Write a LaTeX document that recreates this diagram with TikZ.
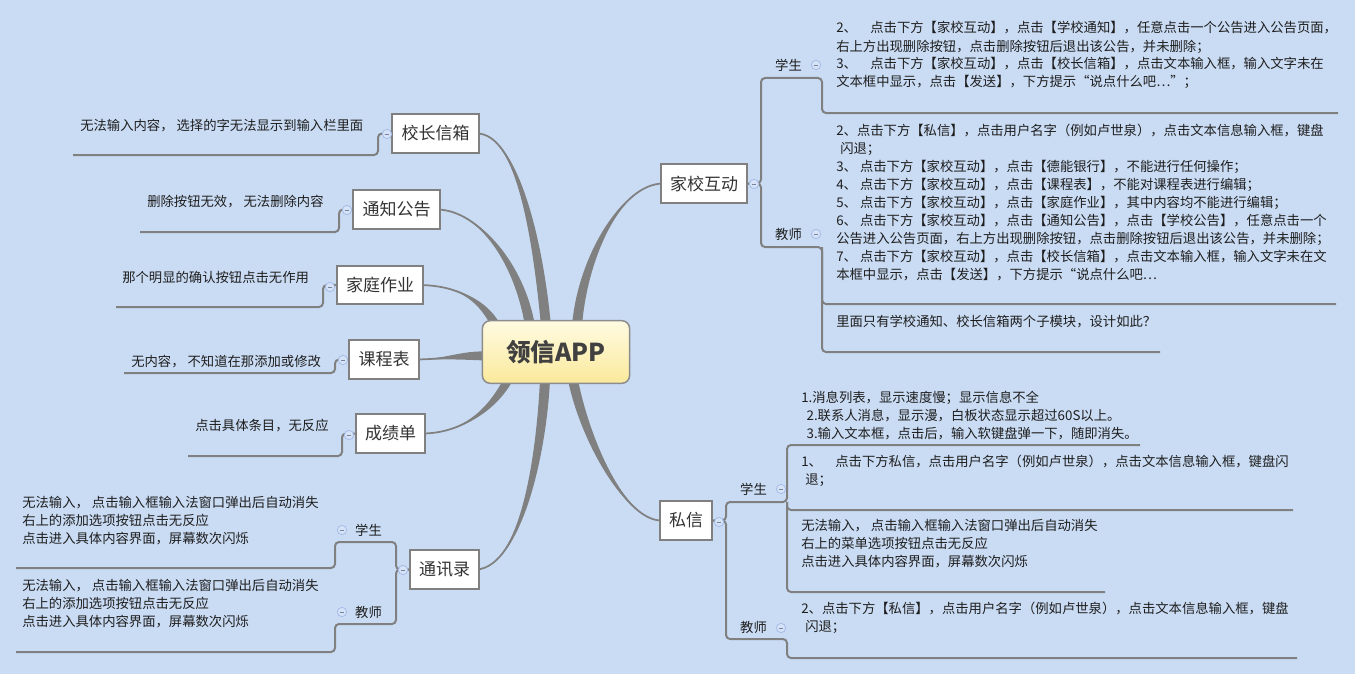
\documentclass[tikz,border=0pt]{standalone}
\usepackage{fontspec}
\setmainfont{Noto Sans CJK SC}
\usetikzlibrary{calc}
\definecolor{bgblue}{RGB}{202,220,244}
\definecolor{linegray}{RGB}{128,128,128}
\definecolor{txt}{RGB}{30,30,30}
\definecolor{ctop}{RGB}{255,251,226}
\definecolor{cbot}{RGB}{250,233,155}
\definecolor{circfill}{RGB}{214,227,247}
\definecolor{circline}{RGB}{165,188,232}
\newcommand{\taperbranch}[5]{%
  \fill[linegray] #1 .. controls #2 and ($#3+#5$) .. ($#4+#5$) -- ($#4-#5$) .. controls ($#3-#5$) and #2 .. #1 -- cycle;
  \draw[linegray, line width=1.3pt] #1 .. controls #2 and #3 .. #4;
}
\tikzset{
  topic/.style={draw=linegray, line width=1.5pt, fill=white, font=\fontsize{12.75}{15}\selectfont, text=black!80, minimum height=29pt, inner xsep=6.8pt, inner ysep=0pt},
  centre/.style={draw=black!45, line width=1.1pt, rounded corners=6pt, top color=ctop, bottom color=cbot, minimum width=110.5pt, minimum height=47pt, font=\fontsize{18.5}{20}\selectfont\bfseries, text=black!75},
  leaf/.style={anchor=base west, align=left, font=\fontsize{10}{13.5}\selectfont, text=txt, inner sep=0pt},
  sublabel/.style={font=\fontsize{10}{12}\selectfont, text=txt, inner sep=0pt},
  conn/.style={draw=linegray, line width=1.5pt, rounded corners=3pt},
  coll/.style={circle, draw=circline, fill=circfill, line width=0.6pt, minimum size=7pt, inner sep=0pt,
    path picture={\draw[circline!70!black, line width=0.5pt] ([xshift=-1.8pt]path picture bounding box.center) -- ([xshift=1.8pt]path picture bounding box.center);}}
}
\begin{document}
\begin{tikzpicture}[x=0.75pt,y=-0.75pt]
\useasboundingbox (0,0) rectangle (1355,674);
\fill[bgblue] (0,0) rectangle (1355,674);

% ---------- main tapered branches ----------
\taperbranch{(477,133.5)}{(515,133.5)}{(537,230)}{(546,326)}{(5,0)}
\taperbranch{(438,209.5)}{(480,211)}{(520,265)}{(530,326)}{(5,0)}
\taperbranch{(421,285)}{(458,286)}{(482,300)}{(495,324)}{(5,0)}
\taperbranch{(417,359.5)}{(445,359)}{(462,355)}{(486,356)}{(0,4.5)}
\taperbranch{(423,433.5)}{(462,433)}{(492,410)}{(508,380)}{(5,0)}
\taperbranch{(477,569.5)}{(520,566)}{(541,460)}{(545,380)}{(5,0)}
\taperbranch{(661,520.5)}{(625,520)}{(585,440)}{(573,380)}{(5,0)}
\taperbranch{(663,183.5)}{(620,184)}{(582,260)}{(577,326)}{(5,0)}

% ---------- nodes ----------
\node[centre] (c) at (556,352) {领信APP};

\node[topic] (xz) at (435.5,133.5) {校长信箱};
\node[topic] (tz) at (396.5,209.5) {通知公告};
\node[topic] (jt) at (380,285) {家庭作业};
\node[topic] (kc) at (384,359.5) {课程表};
\node[topic] (cj) at (390.5,433.5) {成绩单};
\node[topic] (tx) at (444.5,569.5) {通讯录};
\node[topic] (jx) at (704,183.5) {家校互动};
\node[topic] (sx) at (686,520.5) {私信};

% elbow coordinates
\coordinate (xzb) at (378,133.5);
\coordinate (tzb) at (339,209.5);
\coordinate (jtb) at (323,285);
\coordinate (kcb) at (335,359.5);
\coordinate (cjb) at (342,433.5);
\coordinate (txb) at (396,569.5);
\coordinate (jxb) at (761,183.5);
\coordinate (sxb) at (726,520.5);

\coordinate (xzl) at (73,155);
\coordinate (tzl) at (140,232);
\coordinate (jtl) at (116,307);
\coordinate (kcl) at (124,373);
\coordinate (cjl) at (188,456);

\coordinate (jxS) at (822,78);
\coordinate (jxT) at (822,247);
\coordinate (sxS) at (787,502);
\coordinate (sxT) at (787,639);
\coordinate (txS) at (335,542);
\coordinate (txT) at (335,624);

\coordinate (jxSe) at (1338,113);
\coordinate (jxT1e) at (1336,304);
\coordinate (jxT2e) at (1160,352);
\coordinate (sxAe) at (1140,445);
\coordinate (sxBe) at (1293,510);
\coordinate (sxCe) at (1105,592);
\coordinate (sxDe) at (1297,658);
\coordinate (txSe) at (16,568);
\coordinate (txTe) at (16,652);

% ---------- connectors ----------
\draw[conn] (xz.west) -- (xzb) |- (xzl);
\draw[conn] (tz.west) -- (tzb) |- (tzl);
\draw[conn] (jt.west) -- (jtb) |- (jtl);
\draw[conn] (kc.west) -- (kcb) |- (kcl);
\draw[conn] (cj.west) -- (cjb) |- (cjl);

\draw[conn] (jx.east) -- (jxb) |- (jxS) |- (jxSe);
\draw[conn] (jx.east) -- (jxb) |- (jxT) |- (jxT1e);
\draw[conn] (jxT) |- (jxT2e);

\draw[conn] (sx.east) -- (sxb) |- (sxS) |- (sxAe);
\draw[conn] (sxS) |- (sxBe);
\draw[conn] (sxS) |- (sxCe);
\draw[conn] (sx.east) -- (sxb) |- (sxT) |- (sxDe);

\draw[conn] (tx.west) -- (txb) |- (txS) |- (txSe);
\draw[conn] (tx.west) -- (txb) |- (txT) |- (txTe);

% redraw topic boxes over connector ends
\node[topic] at (xz) {校长信箱};
\node[topic] at (tz) {通知公告};
\node[topic] at (jt) {家庭作业};
\node[topic] at (kc) {课程表};
\node[topic] at (cj) {成绩单};
\node[topic] at (tx) {通讯录};
\node[topic] at (jx) {家校互动};
\node[topic] at (sx) {私信};

% ---------- collapse markers ----------
\node[coll] (m1) at (387,134) {};
\node[coll] (m2) at (347,210) {};
\node[coll] (m3) at (330,287) {};
\node[coll] (m4) at (343,360) {};
\node[coll] (m5) at (349,435) {};
\node[coll] (m6) at (403,570) {};
\node[coll] (m7) at (342,530) {};
\node[coll] (m8) at (342,612) {};
\node[coll] (m9) at (754,184) {};
\node[coll] (m10) at (816,65) {};
\node[coll] (m11) at (816,234) {};
\node[coll] (m12) at (719,522) {};
\node[coll] (m13) at (781,489) {};
\node[coll] (m14) at (781,628) {};

% ---------- sub labels ----------
\node[sublabel] (jxSl) at (788.5,65) {学生};
\node[sublabel] (jxTl) at (788.5,234) {教师};
\node[sublabel] (sxSl) at (753.5,489) {学生};
\node[sublabel] (sxTl) at (753.5,627) {教师};
\node[sublabel] (txSl) at (368.5,530) {学生};
\node[sublabel] (txTl) at (368.5,612) {教师};

% ---------- left leaves ----------
\node[leaf] (lxz) at (80,130) {无法输入内容， 选择的字无法显示到输入栏里面};
\node[leaf] (ltz) at (147,206) {删除按钮无效， 无法删除内容};
\node[leaf] (ljt) at (122,282) {那个明显的确认按钮点击无作用};
\node[leaf] (lkc) at (131,366) {无内容， 不知道在那添加或修改};
\node[leaf] (lcj) at (195,430) {点击具体条目，无反应};
\node[leaf] (ltxS) at (22,543) {无法输入， 点击输入框输入法窗口弹出后自动消失\\右上的添加选项按钮点击无反应\\点击进入具体内容界面，屏幕数次闪烁};
\node[leaf] (ltxT) at (22,626) {无法输入， 点击输入框输入法窗口弹出后自动消失\\右上的添加选项按钮点击无反应\\点击进入具体内容界面，屏幕数次闪烁};

% ---------- right leaves ----------
\node[leaf] (ljxS) at (836,87) {2、　点击下方【家校互动】，点击【学校通知】，任意点击一个公告进入公告页面，\\右上方出现删除按钮，点击删除按钮后退出该公告，并未删除；\\3、　点击下方【家校互动】，点击【校长信箱】，点击文本输入框，输入文字未在\\文本框中显示，点击【发送】，下方提示“说点什么吧…”；};
\node[leaf] (ljxT1) at (836,279) {2、点击下方【私信】，点击用户名字（例如卢世泉），点击文本信息输入框，键盘\\\hspace*{3pt}闪退；\\3、 点击下方【家校互动】，点击【德能银行】，不能进行任何操作；\\4、 点击下方【家校互动】，点击【课程表】，不能对课程表进行编辑；\\5、 点击下方【家校互动】，点击【家庭作业】，其中内容均不能进行编辑；\\6、 点击下方【家校互动】，点击【通知公告】，点击【学校公告】，任意点击一个\\公告进入公告页面，右上方出现删除按钮，点击删除按钮后退出该公告，并未删除；\\7、 点击下方【家校互动】，点击【校长信箱】，点击文本输入框，输入文字未在文\\本框中显示，点击【发送】，下方提示“说点什么吧…};
\node[leaf] (ljxT2) at (836,326) {里面只有学校通知、校长信箱两个子模块，设计如此？};

\node[leaf] (lsxA) at (801,438) {1.消息列表，显示速度慢；显示信息不全\\\hspace*{4pt}2.联系人消息，显示漫，白板状态显示超过60S以上。\\\hspace*{4pt}3.输入文本框，点击后，输入软键盘弹一下，随即消失。};
\node[leaf] (lsxB) at (801,484) {1、　点击下方私信，点击用户名字（例如卢世泉），点击文本信息输入框，键盘闪\\\hspace*{3pt}退；};
\node[leaf] (lsxC) at (801,566) {无法输入， 点击输入框输入法窗口弹出后自动消失\\右上的菜单选项按钮点击无反应\\点击进入具体内容界面，屏幕数次闪烁};
\node[leaf] (lsxD) at (801,631) {2、点击下方【私信】，点击用户名字（例如卢世泉），点击文本信息输入框，键盘\\\hspace*{3pt}闪退；};
\end{tikzpicture}
\end{document}
